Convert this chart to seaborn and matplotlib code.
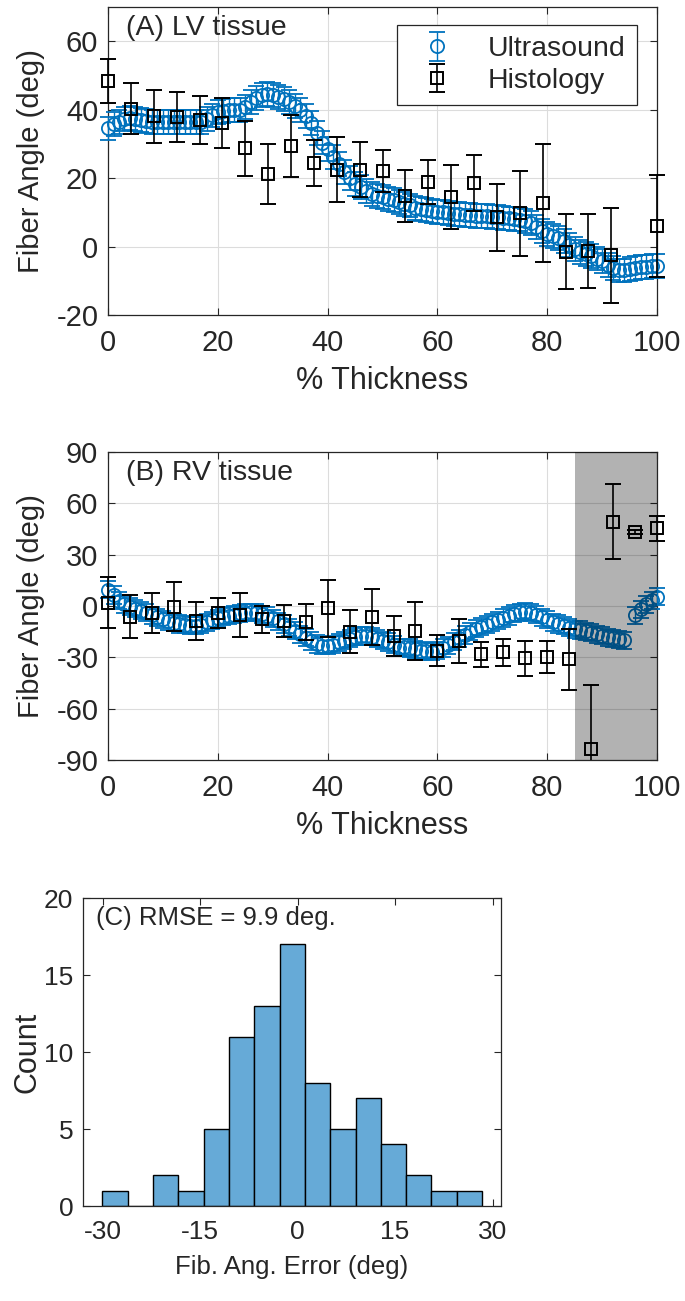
#Fiber angle figure: LV / RV tissue profiles and error histogram
import numpy as np
import pandas as pd
import matplotlib
matplotlib.use("Agg")
import matplotlib.pyplot as plt
import matplotlib.transforms as mtransforms
import seaborn as sns

#Ultrasound profiles, sampled every 1 % of wall thickness
us_x = np.arange(0, 101)

lv_us = [34.5, 35.8, 36.5, 37.2, 37.5, 37.3, 37.0, 36.6, 36.4, 36.3,
         36.3, 36.3, 36.4, 36.5, 36.5, 36.4, 36.3, 36.5, 37.2, 38.3,
         39.2, 39.7, 39.9, 39.9, 40.0, 40.8, 42.2, 43.5, 44.4, 44.6,
         44.2, 43.6, 43.0, 42.2, 41.2, 39.9, 38.2, 36.0, 33.3, 30.4,
         28.5, 26.2, 24.0, 21.8, 19.9, 18.4, 17.3, 16.2, 15.4, 14.8,
         14.4, 14.0, 13.6, 13.0, 12.5, 12.0, 11.4, 11.0, 10.7, 10.4,
         10.2, 10.0, 9.8, 9.6, 9.4, 9.3, 9.1, 9.0, 8.9, 8.8,
         8.7, 8.5, 8.4, 8.2, 8.1, 7.9, 7.5, 6.8, 5.8, 4.6,
         3.7, 3.0, 2.5, 1.6, 0.5, -0.7, -1.6, -2.3, -2.8, -3.5,
         -4.3, -5.3, -6.3, -7.0, -7.0, -6.6, -6.3, -6.0, -5.9, -5.8,
         -5.7]
lv_us_err = 3.5

rv_us = [9.5, 6.5, 3.0, 1.0, -0.5, -1.5, -2.6, -4.0, -5.3, -6.6,
         -7.8, -8.9, -9.8, -10.5, -11.0, -11.5, -11.5, -10.8, -9.5, -8.2,
         -7.2, -6.3, -5.6, -5.0, -4.3, -3.8, -3.7, -4.0, -4.8, -5.8,
         -7.2, -8.8, -10.5, -12.5, -14.5, -16.4, -18.4, -20.4, -22.2, -23.2,
         -23.3, -22.5, -21.2, -20.2, -19.0, -18.0, -17.5, -17.5, -18.0, -19.2,
         -20.3, -21.0, -22.6, -24.4, -24.0, -24.5, -25.2, -26.0, -26.5, -26.7,
         -26.0, -24.5, -22.8, -20.8, -18.9, -16.9, -15.0, -13.3, -12.0, -10.8,
         -9.5, -8.3, -7.0, -5.8, -4.6, -3.6, -3.2, -3.8, -5.0, -6.6,
         -8.1, -9.4, -10.5, -11.6, -12.7, -13.5, -14.0, -14.8, -15.6, -16.5,
         -17.4, -18.2, -18.9, -19.5, -20.0, np.nan, -5.3, -1.8, 1.0, 3.3,
         5.5]
rv_us_err = 5.0

#Histology sections
lv_hist_x = [0, 4.17, 8.33, 12.5, 16.67, 20.83, 25, 29.17, 33.33, 37.5, 41.67, 45.83,
             50, 54.17, 58.33, 62.5, 66.67, 70.83, 75, 79.17, 83.33, 87.5, 91.67, 100]
lv_hist = [48.4, 40.3, 38.1, 37.9, 36.9, 36.1, 28.7, 21.1, 29.3, 24.3, 22.5, 22.5,
           22.0, 14.8, 18.9, 14.4, 18.5, 8.5, 9.7, 12.8, -1.5, -1.3, -2.5, 6.0]
lv_hist_err = [6.5, 7.4, 7.7, 7.4, 7.0, 7.2, 8.0, 8.8, 9.0, 6.7, 9.4, 8.1,
               6.1, 7.6, 6.4, 9.3, 8.2, 9.7, 12.5, 17.2, 11.0, 10.7, 13.9, 15.0]

rv_hist_x = [0, 4, 8, 12, 16, 20, 24, 28, 32, 36, 40, 44, 48,
             52, 56, 60, 64, 68, 72, 76, 80, 84, 88, 92, 96, 100]
rv_hist = [1.9, -6.3, -4.3, -0.4, -8.8, -3.9, -5.3, -7.8, -8.8, -9.2, -1.4, -15.0, -6.3,
           -17.5, -14.4, -26.1, -20.3, -28.1, -27.1, -30.6, -29.6, -31.2, -83.8, 49.3, 43.4, 45.4]
rv_hist_err = [15.0, 12.6, 11.7, 14.4, 11.0, 8.7, 13.0, 8.0, 9.4, 10.4, 16.7, 12.6, 16.5,
               11.7, 17.0, 9.0, 12.7, 7.3, 8.0, 10.3, 9.4, 17.7, 37.6, 22.0, 1.0, 7.3]

#Excluded region in the RV
rv_shade = (85, 100)

#Histogram of fibre angle error
err_counts = [1, 0, 2, 1, 5, 11, 13, 17, 8, 5, 7, 4, 2, 1, 1]
err_edges = np.linspace(-30.05, 28.4, len(err_counts) + 1)
err_centers = (err_edges[:-1] + err_edges[1:]) / 2

sns.set_theme(style="ticks")
plt.rcParams["font.family"] = ["Liberation Sans", "DejaVu Sans"]
plt.rcParams["text.color"] = "#262626"
plt.rcParams["axes.labelcolor"] = "#262626"
plt.rcParams["axes.unicode_minus"] = False

blue = "#0072BD"
dark = "#262626"

fig = plt.figure(figsize=(6.85, 13.01), dpi=100)
axA = fig.add_axes([0.1577, 0.7579, 0.8015, 0.2367])
axB = fig.add_axes([0.1577, 0.4158, 0.8015, 0.2367])
axC = fig.add_axes([0.1212, 0.0730, 0.6102, 0.2367])


def style_axes(ax, size):
    ax.tick_params(direction="in", length=5, width=0.8, top=True, right=True,
                   labelsize=size, colors=dark)
    ax.tick_params(axis="x", pad=10)
    ax.tick_params(axis="y", pad=7)
    for s in ax.spines.values():
        s.set_color(dark)
        s.set_linewidth(0.9)
        s.set_visible(True)


def clip_wide(ax, artists):
    #let markers spill over the left/right edges like MATLAB does
    box = mtransforms.TransformedBbox(mtransforms.Bbox([[-0.1, 0], [1.1, 1.0]]), ax.transAxes)
    for a in artists:
        a.set_clip_box(box)


def profile(ax, us, us_err, hx, hy, herr):
    e1 = ax.errorbar(us_x, us, yerr=us_err, fmt="o", color=blue, mfc="none", mec=blue,
                     ms=9.5, mew=1.3, elinewidth=1.0, capsize=6, capthick=1.0,
                     label="Ultrasound", zorder=3)
    e2 = ax.errorbar(hx, hy, yerr=herr, fmt="s", color="black", mfc="none", mec="black",
                     ms=8, mew=1.4, elinewidth=1.2, capsize=6, capthick=1.2,
                     label="Histology", zorder=4)
    for e in (e1, e2):
        clip_wide(ax, [e[0], *e[1], *e[2]])
    ax.set_xlim(0, 100)
    ax.set_xticks([0, 20, 40, 60, 80, 100])
    ax.grid(True, color="#dcdcdc", linewidth=0.8)
    ax.set_axisbelow(True)
    ax.set_xlabel("% Thickness", fontsize=22)
    ax.set_ylabel("Fiber Angle (deg)", fontsize=21)
    ax.xaxis.set_label_coords(0.5, -0.165)
    ax.yaxis.set_label_coords(-0.115, 0.5)
    style_axes(ax, 21)


#(A) LV tissue
profile(axA, lv_us, lv_us_err, lv_hist_x, lv_hist, lv_hist_err)
axA.set_ylim(-20, 70)
axA.set_yticks([-20, 0, 20, 40, 60])
axA.text(0.033, 0.975, "(A) LV tissue", transform=axA.transAxes, fontsize=20.5,
         va="top", ha="left")
leg = axA.legend(loc="upper right", bbox_to_anchor=(0.9636, 0.9416), borderaxespad=0,
                 fontsize=20.5, fancybox=False, framealpha=1, edgecolor=dark,
                 handlelength=2.0, handletextpad=0.8, labelspacing=0.2, borderpad=0.4)
leg.get_frame().set_linewidth(0.9)

#(B) RV tissue
profile(axB, rv_us, rv_us_err, rv_hist_x, rv_hist, rv_hist_err)
axB.set_ylim(-90, 90)
axB.set_yticks([-90, -60, -30, 0, 30, 60, 90])
axB.axvspan(rv_shade[0], rv_shade[1], color="black", alpha=0.3, lw=0, zorder=5)
axB.text(0.033, 0.975, "(B) RV tissue", transform=axB.transAxes, fontsize=20.5,
         va="top", ha="left")

#(C) Error histogram
hist_df = pd.DataFrame({"error": err_centers, "count": err_counts})
sns.histplot(data=hist_df, x="error", weights="count", bins=list(err_edges), ax=axC,
             color="#66AAD7", alpha=1, edgecolor="black", linewidth=1.0)
axC.set_xlim(-33, 31.3)
axC.set_ylim(0, 20)
axC.set_xticks([-30, -15, 0, 15, 30])
axC.set_yticks([0, 5, 10, 15, 20])
axC.set_xlabel("Fib. Ang. Error (deg)", fontsize=18.5)
axC.set_ylabel("Count", fontsize=22)
axC.xaxis.set_label_coords(0.5, -0.16)
axC.yaxis.set_label_coords(-0.098, 0.5)
style_axes(axC, 19)
axC.text(0.03, 0.975, "(C) RMSE = 9.9 deg.", transform=axC.transAxes, fontsize=18.5,
         va="top", ha="left")

plt.savefig("out.png", dpi=100)
